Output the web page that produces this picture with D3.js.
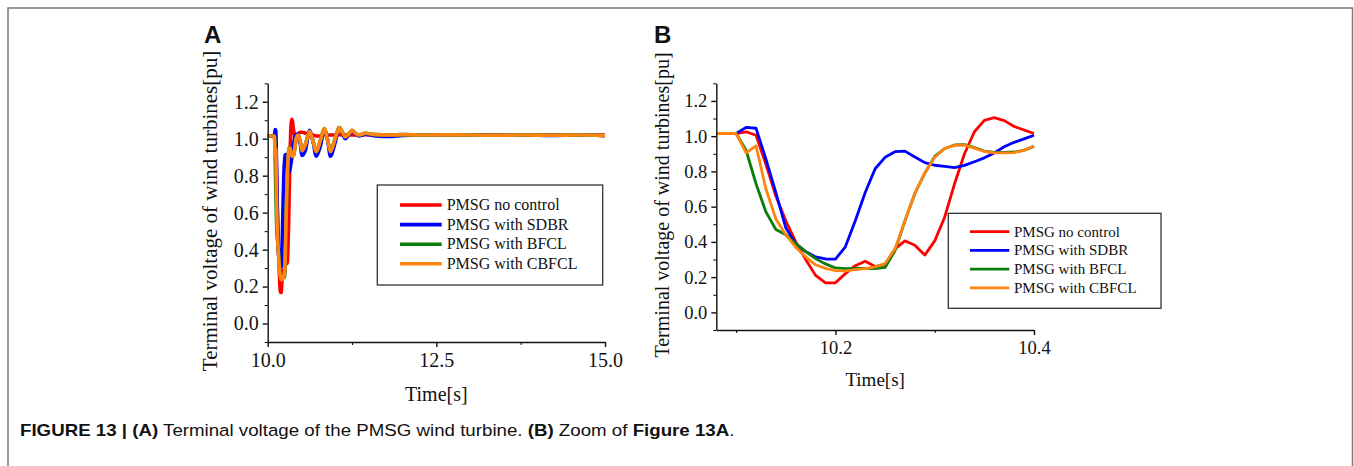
<!DOCTYPE html>
<html>
<head>
<meta charset="utf-8">
<script src="https://cdn.jsdelivr.net/npm/d3@7"></script>
<style>
  body { margin: 0; background: #fff; }
</style>
</head>
<body>
<svg id="fig" width="1354" height="466"></svg>
<script>
// ---- data ----
const seriesNames = ["PMSG no control", "PMSG with SDBR", "PMSG with BFCL", "PMSG with CBFCL"];
const seriesColors = ["#ff0000", "#0000ff", "#0a7d0a", "#ff8412"];

// zoomed window (panel B), 10.08 .. 10.40 s
const timeZoom = [10.08, 10.09, 10.10, 10.11, 10.12, 10.13, 10.14, 10.15, 10.16, 10.17, 10.18,
  10.19, 10.20, 10.21, 10.22, 10.23, 10.24, 10.25, 10.26, 10.27, 10.28, 10.29, 10.30,
  10.31, 10.32, 10.33, 10.34, 10.35, 10.36, 10.37, 10.38, 10.39, 10.40];
const noControlZoom = [1.015, 1.015, 1.015, 1.025, 1.005, 0.84, 0.66, 0.52, 0.40, 0.30, 0.21,
  0.168, 0.168, 0.22, 0.265, 0.29, 0.26, 0.272, 0.36, 0.406, 0.381, 0.325, 0.406,
  0.54, 0.73, 0.90, 1.025, 1.09, 1.105, 1.088, 1.055, 1.035, 1.015];
const sdbrZoom = [1.015, 1.015, 1.015, 1.05, 1.045, 0.87, 0.68, 0.48, 0.39, 0.345, 0.315,
  0.303, 0.302, 0.372, 0.52, 0.68, 0.815, 0.88, 0.912, 0.915, 0.882, 0.85, 0.835,
  0.828, 0.822, 0.834, 0.855, 0.877, 0.905, 0.94, 0.965, 0.985, 1.005];
const bfclZoom = [1.015, 1.015, 1.015, 0.92, 0.73, 0.57, 0.47, 0.44, 0.39, 0.345, 0.305,
  0.275, 0.252, 0.248, 0.25, 0.25, 0.248, 0.255, 0.35, 0.52, 0.675, 0.79, 0.885,
  0.93, 0.95, 0.952, 0.935, 0.915, 0.908, 0.908, 0.91, 0.92, 0.942];
const cbfclZoom = [1.015, 1.015, 1.015, 0.905, 0.945, 0.70, 0.53, 0.44, 0.37, 0.315, 0.27,
  0.25, 0.237, 0.236, 0.243, 0.248, 0.258, 0.277, 0.36, 0.52, 0.675, 0.79, 0.88,
  0.93, 0.948, 0.95, 0.932, 0.913, 0.905, 0.905, 0.907, 0.92, 0.943];

// before the fault (panel A only)
const timeLead = [10.0, 10.04];
const noControlLead = [1.015, 1.015];
const sdbrLead = [1.015, 1.015];
const bfclLead = [1.015, 1.015];
const cbfclLead = [1.015, 1.015];

// after the zoom window (panel A only)
const timeTail = [10.42, 10.45, 10.48, 10.51, 10.56, 10.62, 10.67, 10.72, 10.78, 10.84, 10.89,
  10.93, 11.0, 11.06, 11.1, 11.15, 11.2, 11.25, 11.3, 11.35, 11.45, 11.6, 11.8, 12.0,
  12.3, 12.6, 13.0, 13.4, 13.8, 14.2, 14.6, 15.0];
const noControlTail = [1.0, 1.025, 1.035, 1.035, 1.03, 1.025, 1.02, 1.015, 1.015, 1.02, 1.02,
  1.02, 1.02, 1.022, 1.02, 1.02, 1.022, 1.02, 1.021, 1.02, 1.022, 1.02, 1.021, 1.02,
  1.021, 1.02, 1.02, 1.019, 1.02, 1.019, 1.02, 1.018];
const sdbrTail = [1.02, 1.025, 0.98, 0.91, 0.94, 1.045, 0.99, 0.905, 0.96, 1.05, 0.99,
  0.905, 0.98, 1.06, 1.04, 1.0, 1.02, 1.04, 1.025, 1.015, 1.025, 1.015, 1.012, 1.018,
  1.02, 1.019, 1.02, 1.019, 1.02, 1.018, 1.02, 1.018];
const bfclTail = [0.995, 1.02, 0.99, 0.935, 0.97, 1.04, 0.99, 0.93, 0.99, 1.055, 0.99,
  0.935, 1.0, 1.06, 1.04, 1.012, 1.025, 1.045, 1.03, 1.02, 1.03, 1.022, 1.02, 1.022,
  1.02, 1.021, 1.02, 1.019, 1.02, 1.019, 1.02, 1.018];
const cbfclTail = [1.0, 1.02, 0.99, 0.935, 0.97, 1.04, 0.99, 0.93, 0.99, 1.055, 0.99,
  0.93, 1.0, 1.06, 1.04, 1.01, 1.025, 1.045, 1.03, 1.02, 1.03, 1.022, 1.02, 1.022,
  1.02, 1.021, 1.02, 1.019, 1.02, 1.019, 1.02, 1.018];

const yMajorTicks = [0.0, 0.2, 0.4, 0.6, 0.8, 1.0, 1.2];
const yMinorTicks = [-0.1, 0.1, 0.3, 0.5, 0.7, 0.9, 1.1, 1.3];
const xMajorTicksA = [10.0, 12.5, 15.0];
const xMinorTicksA = [11.25, 13.75];
const xMajorTicksB = [10.2, 10.4];
const xMinorTicksB = [10.1, 10.3];

// ---- build series ----
const zoomVals = [noControlZoom, sdbrZoom, bfclZoom, cbfclZoom];
const leadVals = [noControlLead, sdbrLead, bfclLead, cbfclLead];
const tailVals = [noControlTail, sdbrTail, bfclTail, cbfclTail];

function pairs(ts, vs) { return ts.map((t, i) => ({ x: t, y: vs[i] })); }

const seriesA = seriesNames.map((n, k) =>
  pairs(timeLead, leadVals[k]).concat(pairs(timeZoom, zoomVals[k]), pairs(timeTail, tailVals[k])));
const seriesB = seriesNames.map((n, k) => pairs(timeZoom, zoomVals[k]));

const svg = d3.select("#fig");
const serif = "'Liberation Serif', 'Times New Roman', serif";

// figure frame
svg.append("rect")
  .attr("x", 8).attr("y", 8)
  .attr("width", 1344.5).attr("height", 480)
  .attr("fill", "none")
  .attr("stroke", "#7a7a7a")
  .attr("stroke-width", 1.5);

function panel(opt) {
  const x = d3.scaleLinear().domain(opt.xDomain).range([opt.left, opt.right]);
  const y = d3.scaleLinear().domain([-0.1, 1.3]).range([opt.bottom, opt.top]);
  const g = svg.append("g");

  const line = d3.line()
    .x(d => x(d.x))
    .y(d => y(d.y))
    .curve(opt.curve);

  opt.series.forEach((s, k) => {
    g.append("path")
      .datum(s)
      .attr("fill", "none")
      .attr("stroke", seriesColors[k])
      .attr("stroke-width", opt.lineWidth)
      .attr("stroke-linejoin", "round")
      .attr("d", line);
  });

  // minor ticks
  g.append("g")
    .attr("transform", "translate(" + opt.left + ",0)")
    .call(d3.axisLeft(y).tickValues(yMinorTicks).tickSize(3).tickFormat(""))
    .call(a => a.select(".domain").remove());
  g.append("g")
    .attr("transform", "translate(0," + opt.bottom + ")")
    .call(d3.axisBottom(x).tickValues(opt.xMinor).tickSize(3).tickFormat(""))
    .call(a => a.select(".domain").remove());

  // major axes
  const ya = g.append("g")
    .attr("transform", "translate(" + opt.left + ",0)")
    .call(d3.axisLeft(y).tickValues(yMajorTicks).tickSize(5).tickSizeOuter(0)
      .tickPadding(4).tickFormat(d3.format(".1f")));
  const xa = g.append("g")
    .attr("transform", "translate(0," + opt.bottom + ")")
    .call(d3.axisBottom(x).tickValues(opt.xMajor).tickSize(5).tickSizeOuter(0)
      .tickPadding(6).tickFormat(d3.format(".1f")));

  [ya, xa].forEach(a => {
    a.attr("font-family", serif).attr("font-size", opt.tickFont);
    a.selectAll("text").attr("fill", "#111");
    a.selectAll("line, path").attr("stroke", "#111").attr("stroke-width", 1.4);
  });

  // titles
  g.append("text")
    .attr("x", (opt.left + opt.right) / 2)
    .attr("y", opt.xTitleY)
    .attr("text-anchor", "middle")
    .attr("font-family", serif)
    .attr("font-size", opt.titleFont)
    .attr("fill", "#111")
    .text("Time[s]");

  g.append("text")
    .attr("transform", "translate(" + opt.yTitleX + "," + opt.yTitleMid + ") rotate(-90)")
    .attr("text-anchor", "middle")
    .attr("font-family", serif)
    .attr("font-size", opt.yTitleFont)
    .attr("fill", "#111")
    .text("Terminal voltage of wind turbines[pu]");

  // panel letter
  g.append("text")
    .attr("x", opt.letterX)
    .attr("y", 43)
    .attr("font-family", "'Liberation Sans', Arial, sans-serif")
    .attr("font-weight", "bold")
    .attr("font-size", 24)
    .attr("fill", "#111")
    .text(opt.letter);

  // legend
  const L = opt.legend;
  g.append("rect")
    .attr("x", L.x).attr("y", L.y)
    .attr("width", L.w).attr("height", L.h)
    .attr("fill", "#fff")
    .attr("stroke", "#333")
    .attr("stroke-width", 1.3);
  seriesNames.forEach((n, k) => {
    const ry = L.row0 + k * L.step;
    g.append("line")
      .attr("x1", L.lx1).attr("x2", L.lx2)
      .attr("y1", ry).attr("y2", ry)
      .attr("stroke", seriesColors[k])
      .attr("stroke-width", opt.lineWidth);
    g.append("text")
      .attr("x", L.tx).attr("y", ry + L.font * 0.33)
      .attr("font-family", serif)
      .attr("font-size", L.font)
      .attr("fill", "#111")
      .text(n);
  });
}

panel({
  series: seriesA, xDomain: [10, 15],
  left: 267.7, right: 605, top: 83.3, bottom: 342,
  xMajor: xMajorTicksA, xMinor: xMinorTicksA,
  curve: d3.curveMonotoneX, lineWidth: 3.6,
  tickFont: 20, titleFont: 20, yTitleFont: 21,
  xTitleY: 401, yTitleX: 217, yTitleMid: 211,
  letter: "A", letterX: 204,
  legend: { x: 377.3, y: 185, w: 225.4, h: 100, row0: 205, step: 19.6,
    lx1: 400, lx2: 441.7, tx: 446.7, font: 16 }
});

panel({
  series: seriesB, xDomain: [10.08, 10.4],
  left: 716.3, right: 1034, top: 83.3, bottom: 330,
  xMajor: xMajorTicksB, xMinor: xMinorTicksB,
  curve: d3.curveLinear, lineWidth: 2.8,
  tickFont: 18.5, titleFont: 19, yTitleFont: 20,
  xTitleY: 386, yTitleX: 669, yTitleMid: 205,
  letter: "B", letterX: 654,
  legend: { x: 948.3, y: 213.3, w: 212.7, h: 95, row0: 231.7, step: 18.7,
    lx1: 970, lx2: 1009.3, tx: 1014, font: 15 }
});

// caption
const cap = svg.append("text")
  .attr("font-family", "'Liberation Sans Narrow', 'Arial Narrow', 'Liberation Sans', Arial, sans-serif")
  .attr("font-size", 16.5)
  .attr("fill", "#111");
const capParts = [
  ["FIGURE 13 | (A)", "bold"], [" Terminal voltage of the PMSG wind turbine. ", "normal"],
  ["(B)", "bold"], [" Zoom of ", "normal"], ["Figure 13A", "bold"], [".", "normal"]
];
capParts.forEach(p => {
  cap.append("tspan").attr("font-weight", p[1]).text(p[0]);
});
const capW = cap.node().getComputedTextLength();
cap.attr("transform", "translate(20,436) scale(" + (715 / capW) + ",1)");
</script>
</body>
</html>
